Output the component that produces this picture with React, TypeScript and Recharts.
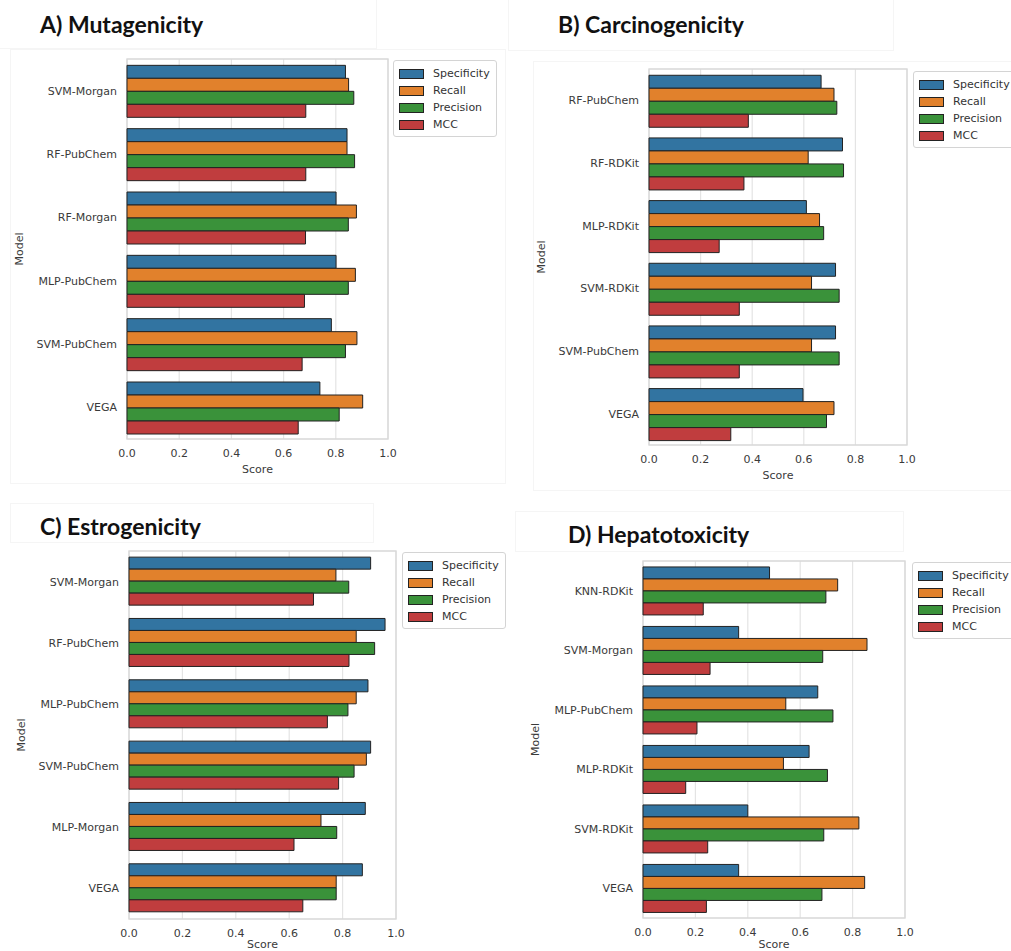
import { BarChart, Bar, XAxis, YAxis, CartesianGrid, ReferenceArea, Legend } from "recharts";

const METRICS = ["Specificity", "Recall", "Precision", "MCC"];
const METRIC_COLORS = ["#3274a1", "#e1812c", "#3a923a", "#c03d3e"];
const SCORE_TICKS = [0, 0.2, 0.4, 0.6, 0.8, 1.0];

// A) Mutagenicity
const mutaModels = ["SVM-Morgan", "RF-PubChem", "RF-Morgan", "MLP-PubChem", "SVM-PubChem", "VEGA"];
const mutaSpecificity = [0.837, 0.843, 0.801, 0.801, 0.783, 0.739];
const mutaRecall = [0.849, 0.843, 0.879, 0.875, 0.881, 0.903];
const mutaPrecision = [0.869, 0.872, 0.848, 0.848, 0.837, 0.813];
const mutaMcc = [0.685, 0.685, 0.684, 0.68, 0.671, 0.656];

// B) Carcinogenicity
const carciModels = ["RF-PubChem", "RF-RDKit", "MLP-RDKit", "SVM-RDKit", "SVM-PubChem", "VEGA"];
const carciSpecificity = [0.667, 0.75, 0.61, 0.723, 0.723, 0.597];
const carciRecall = [0.717, 0.617, 0.661, 0.63, 0.63, 0.717];
const carciPrecision = [0.728, 0.754, 0.677, 0.737, 0.737, 0.688];
const carciMcc = [0.385, 0.368, 0.272, 0.35, 0.35, 0.317];

// C) Estrogenicity
const estroModels = ["SVM-Morgan", "RF-PubChem", "MLP-PubChem", "SVM-PubChem", "MLP-Morgan", "VEGA"];
const estroSpecificity = [0.905, 0.959, 0.895, 0.905, 0.885, 0.874];
const estroRecall = [0.775, 0.851, 0.851, 0.889, 0.719, 0.776];
const estroPrecision = [0.823, 0.92, 0.82, 0.843, 0.778, 0.776];
const estroMcc = [0.691, 0.824, 0.743, 0.785, 0.618, 0.651];

// D) Hepatotoxicity
const hepatoModels = ["KNN-RDKit", "SVM-Morgan", "MLP-PubChem", "MLP-RDKit", "SVM-RDKit", "VEGA"];
const hepatoSpecificity = [0.483, 0.365, 0.667, 0.634, 0.4, 0.365];
const hepatoRecall = [0.743, 0.855, 0.545, 0.536, 0.824, 0.846];
const hepatoPrecision = [0.698, 0.686, 0.725, 0.704, 0.69, 0.683];
const hepatoMcc = [0.23, 0.256, 0.206, 0.163, 0.247, 0.242];

function buildRows(models: string[], spec: number[], recall: number[], prec: number[], mcc: number[]) {
  return models.map((model, i) => ({
    model,
    Specificity: spec[i],
    Recall: recall[i],
    Precision: prec[i],
    MCC: mcc[i],
  }));
}

const TICK_FONT = { fontSize: 11, fill: "#3a3a3a", fontFamily: "DejaVu Sans" };
const Y_AXIS_W = 110;
const X_AXIS_H = 40;

type Box = { left: number; top: number; width: number; height: number };
type Plot = { x0: number; x1: number; y0: number; y1: number };

function LegendBox({ payload }: any) {
  // keep the hue order of the series, not the reversed vertical-layout order
  const items = [...(payload || [])].sort(
    (a: any, b: any) => METRICS.indexOf(a.value) - METRICS.indexOf(b.value)
  );
  return (
    <div
      style={{
        border: "1px solid #d4d4d4",
        borderRadius: 3,
        background: "#fff",
        padding: "4px 6px 3px 5px",
        fontFamily: "DejaVu Sans",
        fontSize: 11,
        color: "#333",
      }}
    >
      {items.map((item: any) => (
        <div key={item.value} style={{ display: "flex", alignItems: "center", height: 17 }}>
          <span
            style={{
              display: "inline-block",
              width: 23,
              height: 8,
              background: item.color,
              border: "1px solid #222",
              marginRight: 9,
            }}
          />
          <span style={{ whiteSpace: "nowrap" }}>{item.value}</span>
        </div>
      ))}
    </div>
  );
}

function ScorePanel({
  rows,
  box,
  plot,
  legendAt,
  scoreOffset = 6,
}: {
  rows: any[];
  box: Box;
  plot: Plot;
  legendAt: [number, number];
  scoreOffset?: number;
}) {
  const margin = {
    top: plot.y0 - box.top,
    left: plot.x0 - box.left - Y_AXIS_W,
    right: box.left + box.width - plot.x1,
    bottom: box.top + box.height - plot.y1 - X_AXIS_H,
  };
  return (
    <div style={{ position: "absolute", left: box.left, top: box.top }}>
      <BarChart
        width={box.width}
        height={box.height}
        data={rows}
        layout="vertical"
        margin={margin}
        barCategoryGap="10%"
        barGap={0}
      >
        <CartesianGrid horizontal={false} stroke="#e4e4e4" strokeWidth={1.2} />
        <ReferenceArea x1={0} x2={1} fill="none" stroke="#d8d8d8" strokeWidth={1.3} />
        <XAxis
          type="number"
          domain={[0, 1]}
          ticks={SCORE_TICKS}
          tickFormatter={(v: number) => v.toFixed(1)}
          axisLine={false}
          tickLine={false}
          tickMargin={4}
          tick={TICK_FONT}
          height={X_AXIS_H}
          label={{ value: "Score", position: "insideBottom", offset: scoreOffset, style: TICK_FONT }}
        />
        <YAxis
          type="category"
          dataKey="model"
          width={Y_AXIS_W}
          axisLine={false}
          tickLine={false}
          tickMargin={4}
          tick={TICK_FONT}
          interval={0}
          label={{
            value: "Model",
            angle: -90,
            position: "insideLeft",
            offset: 2,
            style: { ...TICK_FONT, textAnchor: "middle" },
          }}
        />
        <Legend
          layout="vertical"
          align="center"
          verticalAlign="middle"
          content={<LegendBox />}
          wrapperStyle={{ left: legendAt[0] - box.left, top: legendAt[1] - box.top, width: "auto", height: "auto" }}
        />
        {METRICS.map((m, i) => (
          <Bar key={m} dataKey={m} fill={METRIC_COLORS[i]} stroke="#222" strokeWidth={1} isAnimationActive={false} />
        ))}
      </BarChart>
    </div>
  );
}

function PanelTitle({ text, x, baseline }: { text: string; x: number; baseline: number }) {
  return (
    <div
      style={{
        position: "absolute",
        left: x,
        top: baseline - 20.4,
        fontFamily: "Lato",
        fontWeight: 700,
        fontSize: 23,
        lineHeight: "23px",
        color: "#111",
        whiteSpace: "nowrap",
      }}
    >
      {text}
    </div>
  );
}

// faint outlines of the pasted sub-figures
function Frame({ x, y, w, h }: { x: number; y: number; w: number; h: number }) {
  return (
    <div
      style={{ position: "absolute", left: x, top: y, width: w, height: h, border: "1px solid #f5f5f5", boxSizing: "border-box" }}
    />
  );
}

export default function App() {
  return (
    <div style={{ position: "absolute", left: 0, top: 0, width: 1011, height: 951, overflow: "hidden", background: "#fff" }}>
      <Frame x={-2} y={-2} w={379} h={51} />
      <Frame x={10} y={49} w={496} h={435} />
      <Frame x={508} y={-2} w={386} h={53} />
      <Frame x={533} y={61} w={490} h={430} />
      <Frame x={10} y={503} w={364} h={40} />
      <Frame x={515} y={511} w={389} h={41} />

      <PanelTitle text="A) Mutagenicity" x={40} baseline={33} />
      <PanelTitle text="B) Carcinogenicity" x={558} baseline={33} />
      <PanelTitle text="C) Estrogenicity" x={40} baseline={535} />
      <PanelTitle text="D) Hepatotoxicity" x={568} baseline={543} />

      <ScorePanel
        rows={buildRows(mutaModels, mutaSpecificity, mutaRecall, mutaPrecision, mutaMcc)}
        box={{ left: 0, top: 40, width: 505, height: 445 }}
        plot={{ x0: 127, x1: 388, y0: 59, y1: 439 }}
        legendAt={[393, 60]}
      />
      <ScorePanel
        rows={buildRows(carciModels, carciSpecificity, carciRecall, carciPrecision, carciMcc)}
        box={{ left: 520, top: 55, width: 491, height: 430 }}
        plot={{ x0: 649, x1: 907, y0: 69, y1: 445 }}
        legendAt={[913, 71]}
      />
      <ScorePanel
        rows={buildRows(estroModels, estroSpecificity, estroRecall, estroPrecision, estroMcc)}
        box={{ left: 0, top: 540, width: 505, height: 420 }}
        plot={{ x0: 129, x1: 396, y0: 551, y1: 919 }}
        legendAt={[402, 552]}
        scoreOffset={11}
      />
      <ScorePanel
        rows={buildRows(hepatoModels, hepatoSpecificity, hepatoRecall, hepatoPrecision, hepatoMcc)}
        box={{ left: 520, top: 545, width: 491, height: 415 }}
        plot={{ x0: 643, x1: 905, y0: 561, y1: 918 }}
        legendAt={[912, 562]}
        scoreOffset={10}
      />
    </div>
  );
}
